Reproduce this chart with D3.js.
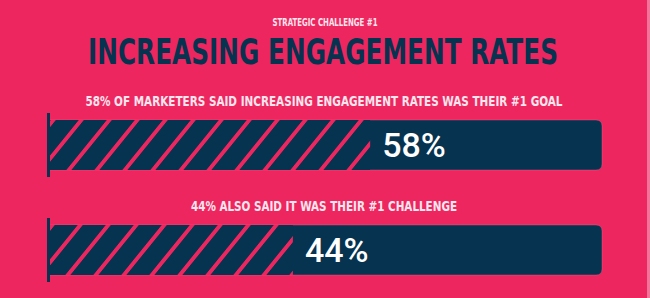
<!DOCTYPE html>
<html>
<head>
<meta charset="utf-8">
<script src="https://cdn.jsdelivr.net/npm/d3@7"></script>
<style>
  html, body { margin: 0; padding: 0; background: #ee2660; }
  svg { display: block; }
</style>
</head>
<body>
<div id="chart"></div>
<script>
// data
const kicker = "STRATEGIC CHALLENGE #1";
const title = "INCREASING ENGAGEMENT RATES";
const questions = [
  "58% OF MARKETERS SAID INCREASING ENGAGEMENT RATES WAS THEIR #1 GOAL",
  "44% ALSO SAID IT WAS THEIR #1 CHALLENGE"
];
const values = [58, 44];
const valueLabels = ["58%", "44%"];

const W = 650, H = 298;
const pink = "#ee2660", navy = "#06334f", pale = "#fde6ee";
const condensed = "'Liberation Sans Narrow', 'DejaVu Sans Condensed', 'Arial Narrow', sans-serif";

const svg = d3.select("#chart").append("svg")
  .attr("width", W)
  .attr("height", H);

svg.append("rect")
  .attr("width", W).attr("height", H)
  .attr("fill", pink);
svg.append("rect")
  .attr("x", W - 3).attr("width", 3).attr("height", H)
  .attr("fill", "#f7a9bf").attr("opacity", 0.6);

// stripes
const defs = svg.append("defs");
defs.append("pattern")
  .attr("id", "hatch")
  .attr("patternUnits", "userSpaceOnUse")
  .attr("width", 28)
  .attr("height", 20)
  .attr("patternTransform", "translate(8,0) skewX(-39)")
  .call(p => {
    p.append("rect").attr("width", 28).attr("height", 20).attr("fill", navy);
    p.append("rect").attr("x", 0).attr("width", 5).attr("height", 20).attr("fill", pink);
  });

// headings
svg.append("text")
  .attr("x", 325).attr("y", 26)
  .attr("text-anchor", "middle")
  .attr("font-family", condensed)
  .attr("font-weight", "bold")
  .attr("font-size", 10)
  .attr("fill", pale)
  .attr("textLength", 105)
  .attr("lengthAdjust", "spacingAndGlyphs")
  .text(kicker);

svg.append("text")
  .attr("x", 323).attr("y", 64)
  .attr("text-anchor", "middle")
  .attr("font-family", condensed)
  .attr("font-weight", "bold")
  .attr("font-size", 35)
  .attr("fill", navy)
  .attr("textLength", 470)
  .attr("lengthAdjust", "spacingAndGlyphs")
  .text(title);

const x = d3.scaleLinear().domain([0, 100]).range([50, 602]);
// two bars, 50px tall, 105px apart
const y = d3.scaleBand().domain(d3.range(values.length)).range([120, 275]).paddingInner(0.5238).paddingOuter(0);
const qWidths = [477, 266];

const rows = svg.selectAll("g.row")
  .data(values)
  .join("g")
  .attr("class", "row");

rows.append("text")
  .attr("x", 324)
  .attr("y", (d, i) => y(i) - 14)
  .attr("text-anchor", "middle")
  .attr("font-family", condensed)
  .attr("font-weight", "bold")
  .attr("font-size", 14)
  .attr("fill", pale)
  .attr("textLength", (d, i) => qWidths[i])
  .attr("lengthAdjust", "spacingAndGlyphs")
  .text((d, i) => questions[i]);

// full track (100%) with rounded right end
rows.append("path")
  .attr("d", (d, i) => {
    const x0 = x(0), x1 = x(100), y0 = y(i), y1 = y(i) + y.bandwidth(), r = 6;
    return `M${x0},${y0}H${x1 - r}Q${x1},${y0} ${x1},${y0 + r}V${y1 - r}Q${x1},${y1} ${x1 - r},${y1}H${x0}Z`;
  })
  .attr("fill", navy)
  .attr("stroke", "#f26a90")
  .attr("stroke-opacity", 0.35)
  .attr("stroke-width", 1);

// hatched value part
rows.append("rect")
  .attr("x", x(0))
  .attr("y", (d, i) => y(i))
  .attr("width", d => x(d) - x(0))
  .attr("height", y.bandwidth())
  .attr("fill", "url(#hatch)");

// axis stub
rows.append("rect")
  .attr("x", x(0) - 3)
  .attr("y", (d, i) => y(i) - 7)
  .attr("width", 3)
  .attr("height", y.bandwidth() + 14)
  .attr("fill", navy);

rows.append("text")
  .attr("x", d => x(d) + 12)
  .attr("y", (d, i) => y(i) + y.bandwidth() / 2 + 12)
  .attr("font-family", "Roboto, 'Open Sans', sans-serif")
  .attr("font-weight", 500)
  .attr("font-size", 34)
  .attr("fill", "#ffffff")
  .text((d, i) => valueLabels[i]);
</script>
</body>
</html>
